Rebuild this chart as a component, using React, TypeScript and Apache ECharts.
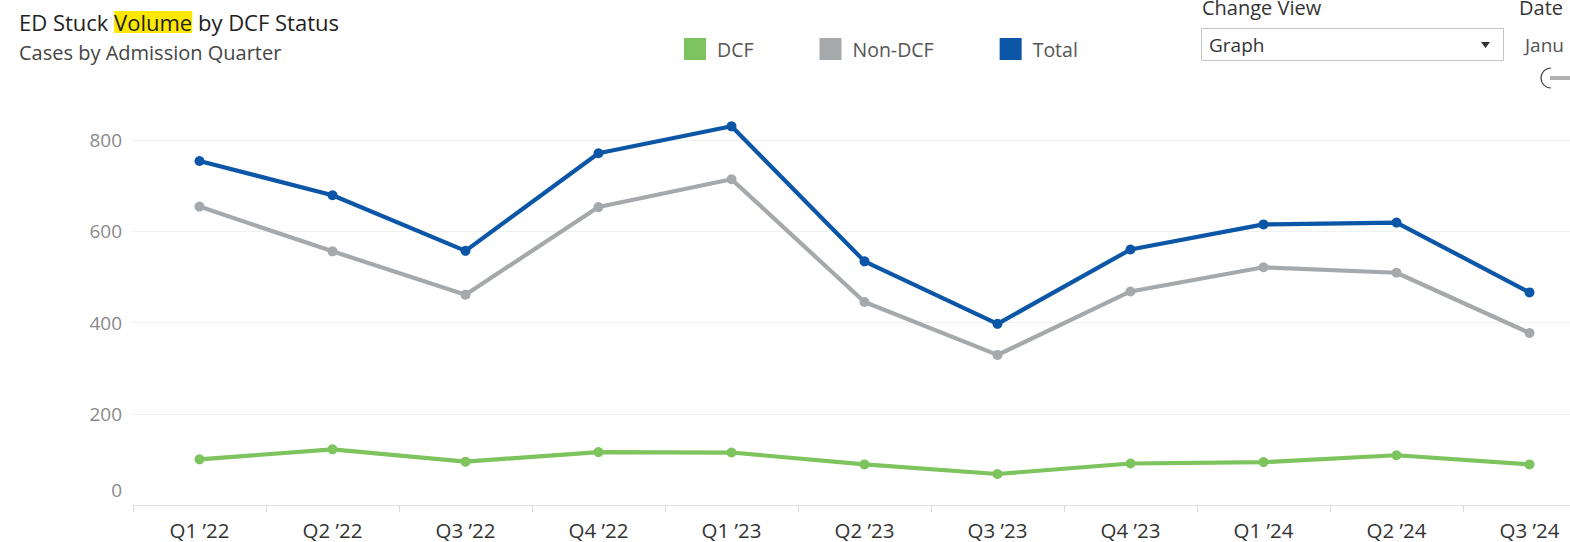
import React, { useEffect, useRef } from 'react';
import * as echarts from 'echarts';

const quarters = ['Q1 ’22', 'Q2 ’22', 'Q3 ’22', 'Q4 ’22', 'Q1 ’23', 'Q2 ’23', 'Q3 ’23', 'Q4 ’23', 'Q1 ’24', 'Q2 ’24', 'Q3 ’24'];
const dcf = [100, 122, 95, 116, 115, 89, 68, 91, 94, 109, 89];
const nonDcf = [654, 556, 461, 653, 714, 445, 329, 468, 521, 509, 377];
const total = [754, 679, 557, 771, 830, 534, 397, 560, 615, 619, 466];
const yTicks = [0, 200, 400, 600, 800];

const FONT = '"Open Sans", sans-serif';
const C_DCF = '#7dc35e';
const C_NON = '#a5a9ac';
const C_TOT = '#0b56a6';

function lineSeries(name: string, data: number[], color: string) {
  return {
    name,
    type: 'line',
    data,
    symbol: 'circle',
    symbolSize: 10,
    clip: false,
    lineStyle: { width: 4.2, color },
    itemStyle: { color },
    emphasis: { disabled: true },
  };
}

export default function App() {
  const ref = useRef<HTMLDivElement>(null);
  useEffect(() => {
    const chart = echarts.init(ref.current!, null, { renderer: 'svg' });
    chart.setOption({
      animation: false,
      backgroundColor: '#ffffff',
      textStyle: { fontFamily: FONT },
      legend: {
        left: 684,
        top: 38,
        padding: 0,
        itemWidth: 22,
        itemHeight: 22,
        itemGap: 66,
        icon: 'rect',
        selectedMode: false,
        data: ['DCF', 'Non-DCF', 'Total'],
        textStyle: { fontSize: 19.5, color: '#555', fontFamily: FONT, padding: [0, 0, 0, 6] },
      },
      grid: { left: 133, top: 140, width: 1463, height: 365, containLabel: false, outerBoundsMode: 'none' },
      xAxis: {
        type: 'category',
        data: quarters,
        boundaryGap: true,
        axisLine: { lineStyle: { color: '#e2e2e2', width: 1 } },
        axisTick: { show: true, length: 7, lineStyle: { color: '#dadada' } },
        axisLabel: { color: '#333', fontSize: 20.5, margin: 14, interval: 0, fontFamily: FONT },
        splitLine: { show: false },
      },
      yAxis: {
        type: 'value',
        min: yTicks[0],
        max: yTicks[yTicks.length - 1],
        interval: yTicks[1] - yTicks[0],
        axisLine: { show: false },
        axisTick: { show: false },
        splitLine: { lineStyle: { color: '#f0f0f0', width: 1 } },
        axisLabel: {
          color: '#8a8a8a',
          fontSize: 19,
          margin: 11,
          fontFamily: FONT,
          formatter: (v: number) => (v === 0 ? '{z|0}' : '{n|' + v + '}'),
          rich: {
            z: { padding: [0, 0, 30, 0], fontSize: 19, color: '#8a8a8a', fontFamily: FONT },
            n: { fontSize: 19, color: '#8a8a8a', fontFamily: FONT },
          },
        },
      },
      graphic: [
        {
          type: 'text',
          x: 19,
          y: 11,
          style: {
            text: 'ED Stuck {h|Volume} by DCF Status',
            fontSize: 22,
            fontFamily: FONT,
            fill: '#222',
            rich: { h: { backgroundColor: '#ffe800', fontSize: 22, fontFamily: FONT, fill: '#222' } },
          },
        },
        {
          type: 'text',
          x: 19,
          y: 42,
          style: { text: 'Cases by Admission Quarter', fontSize: 20, fontFamily: FONT, fill: '#444' },
        },
        {
          type: 'text',
          x: 1202,
          y: -3,
          style: { text: 'Change View', fontSize: 20, fontFamily: FONT, fill: '#333' },
        },
        {
          type: 'rect',
          shape: { x: 1201.5, y: 28.5, width: 302, height: 32 },
          style: { fill: '#fff', stroke: '#c4c4c4', lineWidth: 1 },
        },
        {
          type: 'text',
          x: 1209,
          y: 35,
          style: { text: 'Graph', fontSize: 19, fontFamily: FONT, fill: '#333' },
        },
        {
          type: 'polygon',
          shape: { points: [[1481, 42], [1490, 42], [1485.5, 48]] },
          style: { fill: '#333' },
        },
        {
          type: 'text',
          x: 1519,
          y: -3,
          style: { text: 'Date', fontSize: 20, fontFamily: FONT, fill: '#333' },
        },
        {
          type: 'text',
          x: 1525,
          y: 35,
          style: { text: 'Janu', fontSize: 19, fontFamily: FONT, fill: '#555' },
        },
        {
          type: 'line',
          shape: { x1: 1550, y1: 78, x2: 1570, y2: 78 },
          style: { stroke: '#b0b0b0', lineWidth: 4 },
        },
        {
          type: 'arc',
          shape: { cx: 1551, cy: 78, r: 10, startAngle: Math.PI / 2, endAngle: (Math.PI * 3) / 2, clockwise: true },
          style: { stroke: '#444', lineWidth: 1.2, fill: 'none' },
        },
      ],
      series: [
        lineSeries('DCF', dcf, C_DCF),
        lineSeries('Non-DCF', nonDcf, C_NON),
        lineSeries('Total', total, C_TOT),
      ],
    });
    return () => chart.dispose();
  }, []);
  return <div ref={ref} style={{ position: 'fixed', left: 0, top: 0, width: 1570, height: 542 }} />;
}
